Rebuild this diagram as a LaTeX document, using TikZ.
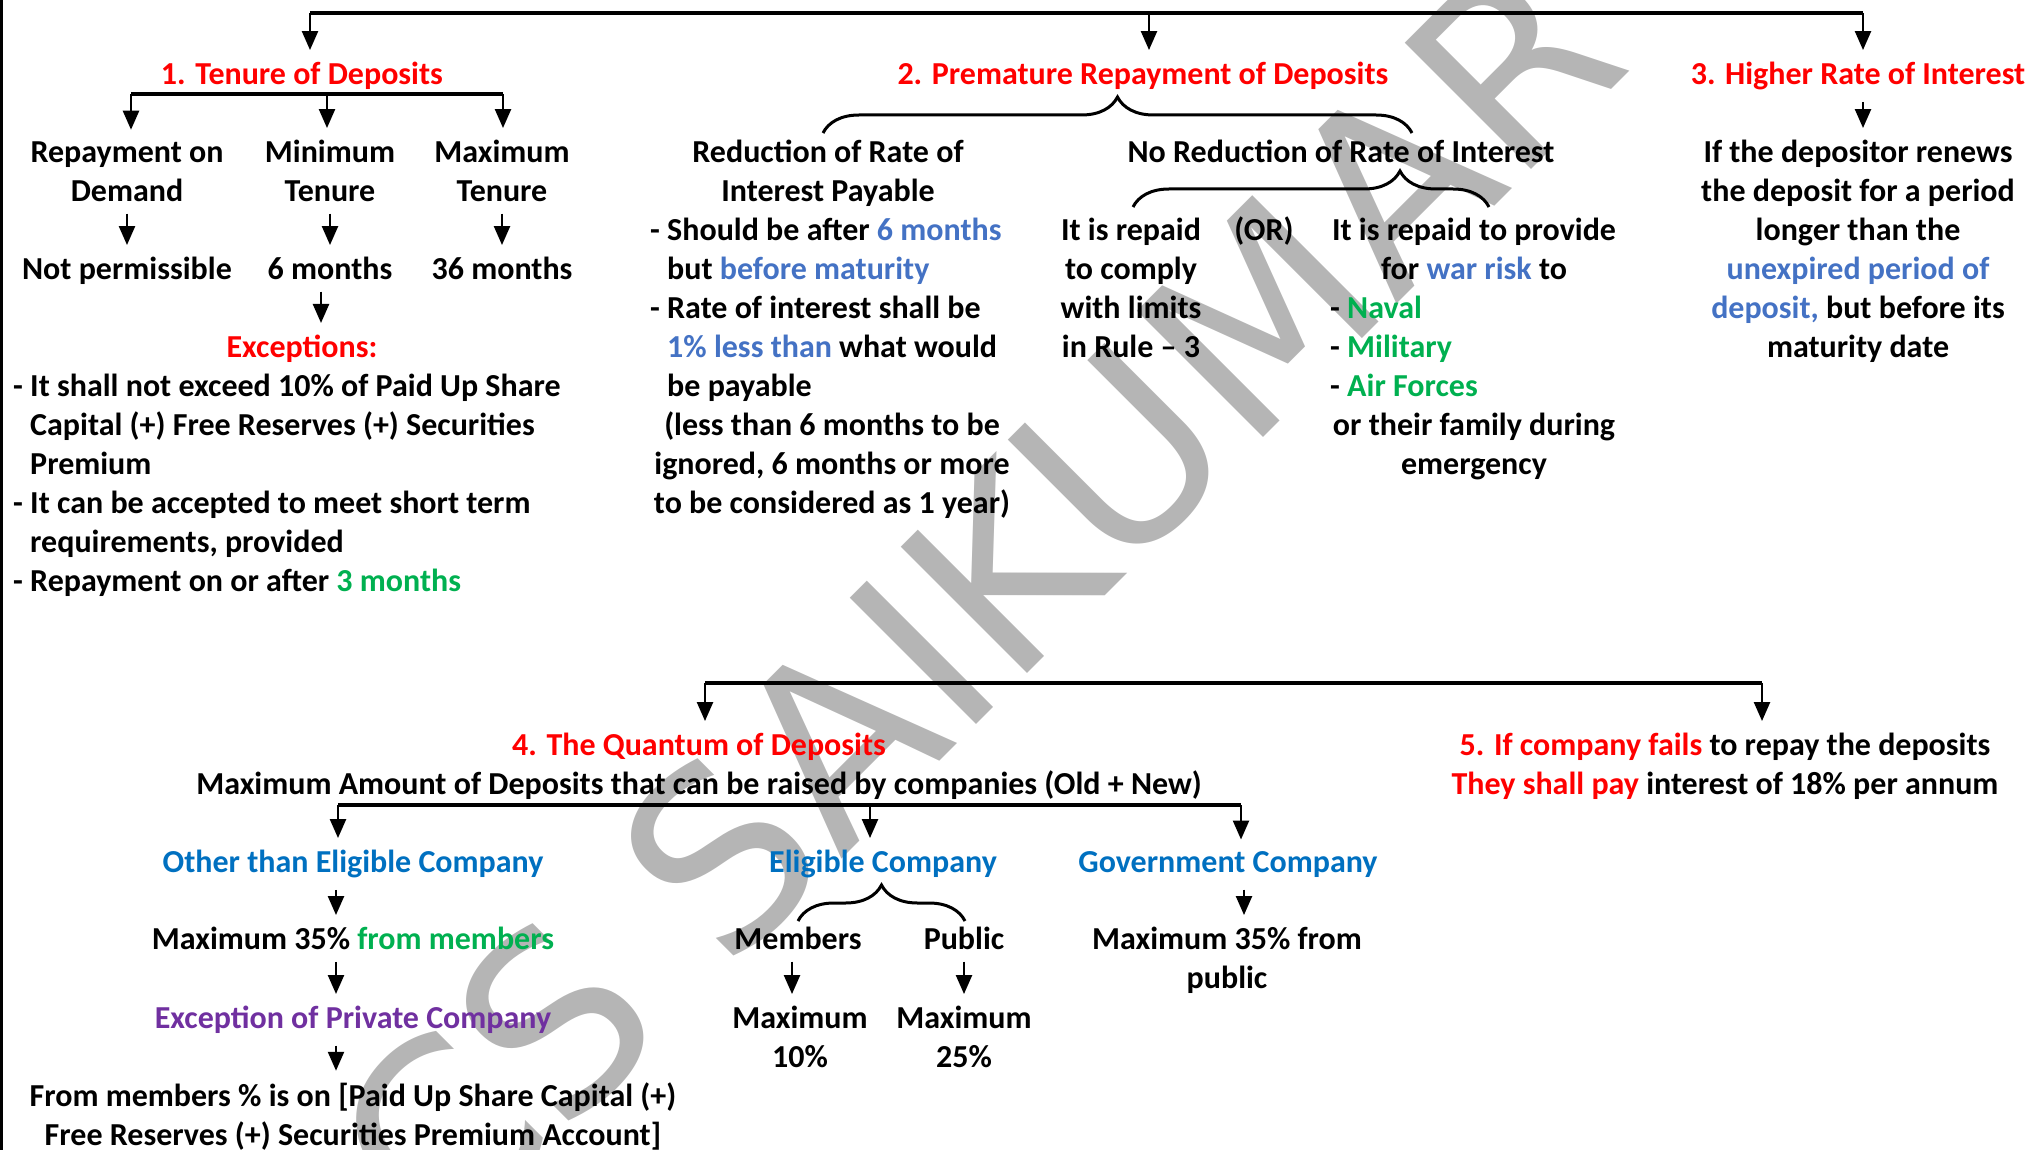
\documentclass[tikz,border=0pt]{standalone}
\usepackage{fontspec}
\setmainfont{Carlito}
\newfontfamily\wmfont{DejaVu Sans}
\usetikzlibrary{arrows.meta,decorations.pathreplacing}

\definecolor{hdred}{HTML}{FF0000}
\definecolor{lblue}{HTML}{4472C4}
\definecolor{cblue}{HTML}{0070C0}
\definecolor{dgreen}{HTML}{00B050}
\definecolor{dpurple}{HTML}{7030A0}
\definecolor{wmgray}{HTML}{B5B5B5}

\begin{document}
\begin{tikzpicture}[x=1pt,y=-1pt,
  txt/.style={font=\fontsize{32}{39}\selectfont\bfseries, inner sep=0pt, outer ysep=12pt, align=center, anchor=base},
  lst/.style={txt, align=left, anchor=base west},
  hd/.style={txt, text=hdred},
  link/.style={line width=3.5pt},
  arr/.style={line width=2.4pt, -{Triangle[width=16pt,length=19pt]}},
  brc/.style={line width=3pt, decorate, decoration={brace, amplitude=36pt}}]
\useasboundingbox (0,0) rectangle (2029,1150);
% Watermark
\node[rotate=45, text=wmgray, font=\wmfont\fontsize{245}{245}\selectfont] (wm) at (975,600) {CS SAIKUMAR};
% Border
\draw[line width=3pt] (1.5,0) -- (1.5,1150);
% Nodes (multi-line texts sit on the baseline of their last line)
\node[hd] (ten) at (302,84.5) {1. Tenure of Deposits};
\node[hd] (pre) at (1143,84.5) {2. Premature Repayment of Deposits};
\node[hd] (hri) at (1858,84.5) {3. Higher Rate of Interest};

\node[txt] (dem) at (127,201.5) {Repayment on\\Demand};
\node[txt] (mint) at (330,201.5) {Minimum\\Tenure};
\node[txt] (maxt) at (502,201.5) {Maximum\\Tenure};
\node[txt] (notp) at (127,279.5) {Not permissible};
\node[txt] (six) at (330,279.5) {6 months};
\node[txt] (thirty) at (502,279.5) {36 months};
\node[hd] (exc) at (302,357.5) {Exceptions:};
\node[lst] (exclist) at (13,591.5) {- It shall not exceed 10\% of Paid Up Share\\\phantom{- }Capital (+) Free Reserves (+) Securities\\\phantom{- }Premium\\- It can be accepted to meet short term\\\phantom{- }requirements, provided\\- Repayment on or after \textcolor{dgreen}{3 months}};

\node[txt] (red) at (828,201.5) {Reduction of Rate of\\Interest Payable};
\node[lst] (redlist) at (650,396.5) {- Should be after \textcolor{lblue}{6 months}\\\phantom{- }but \textcolor{lblue}{before maturity}\\- Rate of interest shall be\\\phantom{- }\textcolor{lblue}{1\% less than} what would\\\phantom{- }be payable};
\node[txt] (rednote) at (832,513.5) {(less than 6 months to be\\ignored, 6 months or more\\to be considered as 1 year)};
\node[txt] (nored) at (1341,162.5) {No Reduction of Rate of Interest};
\node[txt] (rule) at (1131,357.5) {It is repaid\\to comply\\with limits\\in Rule -- 3};
\node[txt] (or) at (1264,240.5) {(OR)};
\node[txt] (war) at (1474,279.5) {It is repaid to provide\\for \textcolor{lblue}{war risk} to};
\node[lst] (forces) at (1330,396.5) {- \textcolor{dgreen}{Naval}\\- \textcolor{dgreen}{Military}\\- \textcolor{dgreen}{Air Forces}};
\node[txt] (family) at (1474,474.5) {or their family during\\emergency};

\node[txt] (renew) at (1858,357.5) {If the depositor renews\\the deposit for a period\\longer than the\\\textcolor{lblue}{unexpired period of}\\\textcolor{lblue}{deposit,} but before its\\maturity date};

\node[hd] (quant) at (699,755.5) {4. The Quantum of Deposits};
\node[txt] (maxamt) at (699,794.5) {Maximum Amount of Deposits that can be raised by companies (Old + New)};
\node[txt, text=cblue] (other) at (353,872.5) {Other than Eligible Company};
\node[txt, text=cblue] (elig) at (883,872.5) {Eligible Company};
\node[txt, text=cblue] (govt) at (1228,872.5) {Government Company};
\node[txt] (mem35) at (353,949.5) {Maximum 35\% \textcolor{dgreen}{from members}};
\node[txt, text=dpurple] (pvt) at (353,1028.5) {Exception of Private Company};
\node[txt] (frommem) at (353,1145.5) {From members \% is on [Paid Up Share Capital (+)\\Free Reserves (+) Securities Premium Account]};
\node[txt] (mem) at (798,949.5) {Members};
\node[txt] (pub) at (964,949.5) {Public};
\node[txt] (ten10) at (800,1067.5) {Maximum\\10\%};
\node[txt] (tw25) at (964,1067.5) {Maximum\\25\%};
\node[txt] (pub35) at (1227,988.5) {Maximum 35\% from\\public};

\node[txt] (fail) at (1725,755.5) {\textcolor{hdred}{5. If company fails} to repay the deposits};
\node[txt] (pay) at (1725,794.5) {\textcolor{hdred}{They shall pay} interest of 18\% per annum};
% Lines
\coordinate (tl) at (310,13);
\coordinate (tm) at (1149,13);
\coordinate (tr) at (1863,13);
\draw[link] (tl) -- (tr);
\draw[arr] (tl) -- (tl |- ten.north);
\draw[arr] (tm) -- (tm |- pre.north);
\draw[arr] (tr) -- (tr |- hri.north);

\coordinate (sl) at (131,94);
\coordinate (sm) at (327,94);
\coordinate (sr) at (503,94);
\draw[link] (sl) -- (sr);
\draw[arr] (sl) -- (sl |- dem.north);
\draw[arr] (sm) -- (sm |- mint.north);
\draw[arr] (sr) -- (sr |- maxt.north);
\draw[arr] (dem.south) -- (dem.south |- notp.north);
\draw[arr] (mint.south) -- (mint.south |- six.north);
\draw[arr] (maxt.south) -- (maxt.south |- thirty.north);
\draw[arr] ([xshift=-9pt]six.south) -- ([xshift=-9pt]six.south |- exc.north);
\draw[arr] (hri.south -| tr) -- (tr |- renew.north);

\draw[brc] (823,133) -- (1412,133);
\draw[brc, decoration={aspect=0.75}] (1133,207) -- (1489,207);

\coordinate (ql) at (705,683);
\coordinate (qr) at (1762,683);
\draw[link] (ql) -- (qr);
\draw[arr] (ql) -- (ql |- quant.north);
\draw[arr] (qr) -- (qr |- fail.north);

\coordinate (cl) at (338,805);
\coordinate (cm) at (870,805);
\coordinate (cr) at (1241,805);
\draw[link] (cl) -- (cr);
\draw[arr] (cl) -- (cl |- other.north);
\draw[arr] (cm) -- (cm |- elig.north);
\draw[arr] (cr) -- (cr |- govt.north);
\draw[arr] ([xshift=-17pt]other.south) -- ([xshift=-17pt]other.south |- mem35.north);
\draw[arr] ([xshift=-17pt]mem35.south) -- ([xshift=-17pt]mem35.south |- pvt.north);
\draw[arr] ([xshift=-17pt]pvt.south) -- ([xshift=-17pt]pvt.south |- frommem.north);
\draw[arr] ([xshift=-6pt]mem.south) -- ([xshift=-6pt]mem.south |- ten10.north);
\draw[arr] (pub.south) -- (pub.south |- tw25.north);
\draw[arr] ([xshift=16pt]govt.south) -- ([xshift=16pt]govt.south |- pub35.north);
\draw[brc] (798,921) -- (965,921);
\end{tikzpicture}
\end{document}
